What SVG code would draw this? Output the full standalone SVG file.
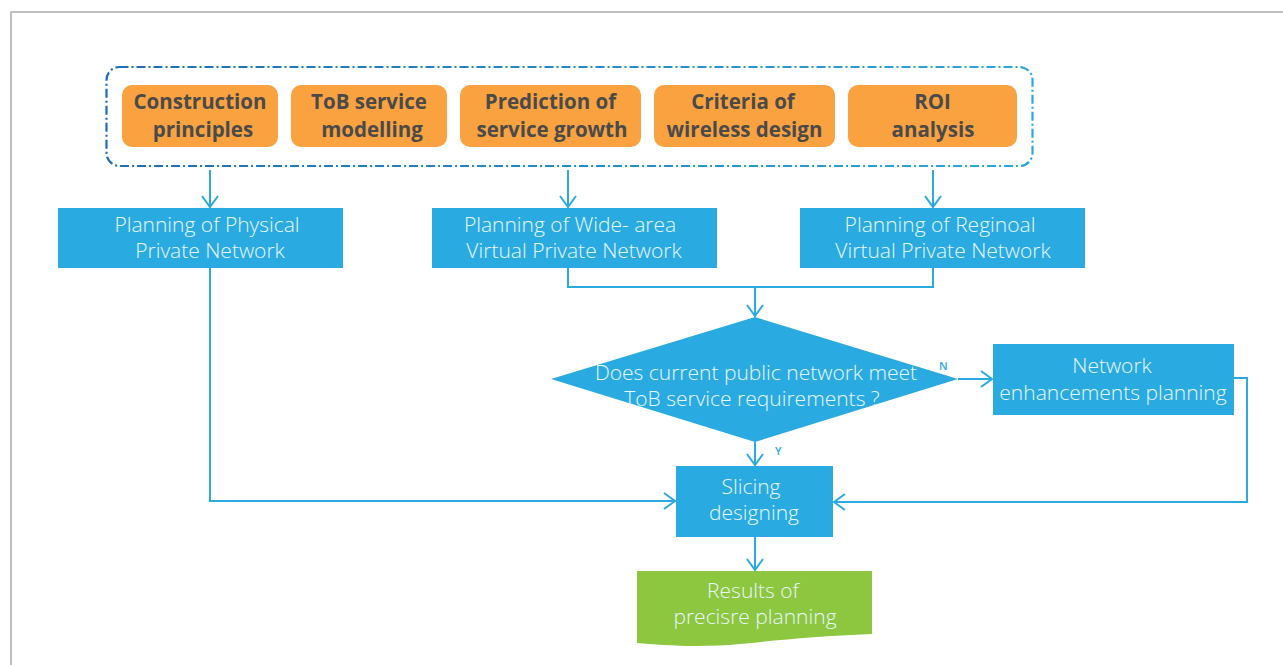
<svg xmlns="http://www.w3.org/2000/svg" width="1283" height="665" viewBox="0 0 1283 665">
<defs>
<linearGradient id="dashGrad" x1="0" y1="0" x2="1" y2="0">
<stop offset="0" stop-color="#1c6db5"/>
<stop offset="1" stop-color="#2aa8e0"/>
</linearGradient>
<marker id="arr" markerUnits="userSpaceOnUse" markerWidth="14" markerHeight="20" refX="12" refY="10" orient="auto" viewBox="0 0 14 20">
<path d="M1,2 L12,10 L1,18" fill="none" stroke="#29abe2" stroke-width="2"/>
</marker>
</defs>
<style>
.orange{fill:#f9a23f}
.otext{font-family:"Open Sans","Liberation Sans",sans-serif;font-weight:700;font-size:20.5px;fill:#4a4a4a;text-anchor:middle}
.blue{fill:#29abe2}
.btext{font-family:"Open Sans","Liberation Sans",sans-serif;font-weight:300;font-size:21px;fill:#e8f6fd;text-anchor:middle}
.conn{fill:none;stroke:#29abe2;stroke-width:2}
.lbl{font-family:"Open Sans","Liberation Sans",sans-serif;font-weight:600;font-size:11px;fill:#29abe2}
</style>
<rect x="0" y="0" width="1283" height="665" fill="#ffffff"/>
<rect x="11" y="12" width="1290" height="680" fill="none" stroke="#ababab" stroke-width="1.5"/>

<g id="group-box">
<rect x="106.5" y="67" width="926" height="99" rx="13" fill="none" stroke="url(#dashGrad)" stroke-width="2.2" stroke-dasharray="9,3,2,3"/>
</g>

<g id="construction">
<rect class="orange" x="122" y="85" width="156" height="62" rx="10"/>
<text class="otext" x="200" y="109">Construction</text>
<text class="otext" x="203" y="137">principles</text>
</g>
<g id="tob-modelling">
<rect class="orange" x="291" y="85" width="156" height="62" rx="10"/>
<text class="otext" x="369" y="109">ToB service</text>
<text class="otext" x="372" y="137">modelling</text>
</g>
<g id="prediction">
<rect class="orange" x="460" y="85" width="181" height="62" rx="10"/>
<text class="otext" x="550.5" y="109">Prediction of</text>
<text class="otext" x="552" y="137">service growth</text>
</g>
<g id="criteria">
<rect class="orange" x="654" y="85" width="181" height="62" rx="10"/>
<text class="otext" x="743" y="109">Criteria of</text>
<text class="otext" x="744.5" y="137">wireless design</text>
</g>
<g id="roi">
<rect class="orange" x="848" y="85" width="169" height="62" rx="10"/>
<text class="otext" x="932.5" y="109">ROI</text>
<text class="otext" x="933" y="137">analysis</text>
</g>

<g id="physical">
<rect class="blue" x="58" y="208" width="285" height="60"/>
<text class="btext" x="207" y="232">Planning of Physical</text>
<text class="btext" x="210" y="258">Private Network</text>
</g>
<g id="wide-area">
<rect class="blue" x="432" y="208" width="285" height="60"/>
<text class="btext" x="570" y="232">Planning of Wide- area</text>
<text class="btext" x="574" y="258">Virtual Private Network</text>
</g>
<g id="regional">
<rect class="blue" x="800" y="208" width="285" height="60"/>
<text class="btext" x="940" y="232">Planning of Reginoal</text>
<text class="btext" x="943" y="258">Virtual Private Network</text>
</g>

<g id="decision">
<polygon class="blue" points="755,317 958,379 755,442 551,379"/>
<text class="btext" x="756" y="380">Does current public network meet</text>
<text class="btext" x="752" y="406">ToB service requirements ?</text>
</g>
<g id="enhancement">
<rect class="blue" x="993" y="344" width="241" height="71"/>
<text class="btext" x="1112" y="373">Network</text>
<text class="btext" x="1113" y="400">enhancements planning</text>
</g>
<g id="slicing">
<rect class="blue" x="676" y="466" width="157" height="71"/>
<text class="btext" x="751" y="494">Slicing</text>
<text class="btext" x="754" y="520">designing</text>
</g>
<g id="results">
<path d="M637,571 L872,571 L872,634 C820,636 780,640 740,644 C700,648 660,645 637,643 Z" fill="#8dc63f"/>
<text class="btext" x="753" y="598">Results of</text>
<text class="btext" x="755" y="624">precisre planning</text>
</g>

<g id="connectors">
<line class="conn" x1="210" y1="170" x2="210" y2="207" marker-end="url(#arr)"/>
<line class="conn" x1="568" y1="170" x2="568" y2="207" marker-end="url(#arr)"/>
<line class="conn" x1="933" y1="170" x2="933" y2="207" marker-end="url(#arr)"/>
<polyline class="conn" points="568,268 568,287 933,287 933,268"/>
<line class="conn" x1="755" y1="287" x2="755" y2="316" marker-end="url(#arr)"/>
<line class="conn" x1="958" y1="379" x2="992" y2="379" marker-end="url(#arr)"/>
<text class="lbl" x="939" y="370">N</text>
<line class="conn" x1="755" y1="442" x2="755" y2="465" marker-end="url(#arr)"/>
<text class="lbl" x="775" y="455">Y</text>
<polyline class="conn" points="210,268 210,501 675,501" marker-end="url(#arr)"/>
<polyline class="conn" points="1234,378 1247,378 1247,502 834,502" marker-end="url(#arr)"/>
<line class="conn" x1="755" y1="537" x2="755" y2="570" marker-end="url(#arr)"/>
</g>
</svg>
